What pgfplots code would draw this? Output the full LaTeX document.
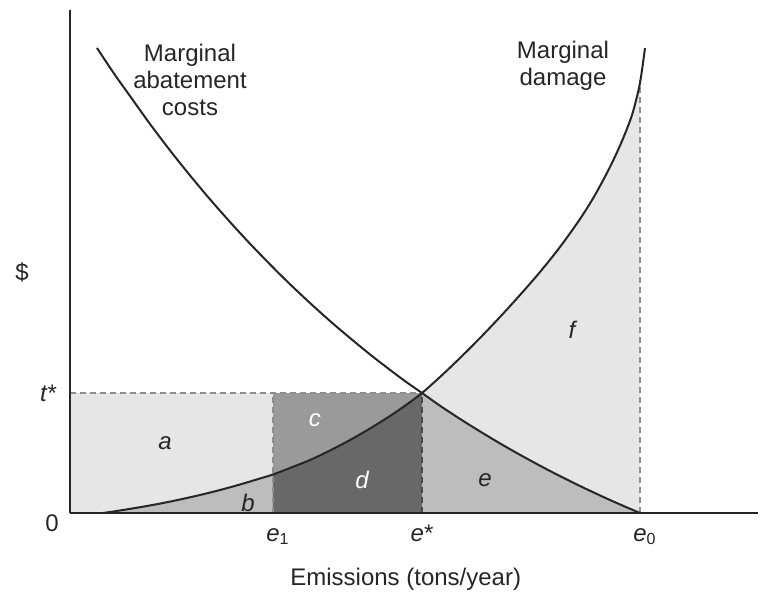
\documentclass[border=0pt]{standalone}
\usepackage{pgfplots}
\pgfplotsset{compat=1.18}
\usepackage{fontspec}
\setmainfont{Liberation Sans}
\definecolor{lightA}{HTML}{E6E6E6}
\definecolor{midB}{HTML}{BDBDBD}
\definecolor{midC}{HTML}{9A9A9A}
\definecolor{darkD}{HTML}{686868}
\definecolor{dashc}{HTML}{8E8E8E}
\definecolor{txt}{HTML}{262626}
\begin{document}
\begin{tikzpicture}
\begin{axis}[
  width=344pt, height=251.5pt, scale only axis,
  xmin=0, xmax=688, ymin=0, ymax=503,
  axis lines=left,
  axis line style={-, line width=1pt, color=txt},
  axis on top,
  clip=false,
  major tick length=0pt,
  xtick={203,352,570},
  xticklabels={\textit{e}\rlap{\textsubscript{1}}, \textit{e}*, \textit{e}\rlap{\textsubscript{0}}},
  xticklabel style={anchor=base, yshift=-14pt, text=txt, font=\fontsize{12}{14}\selectfont},
  ytick={120},
  yticklabels={\textit{t}*},
  yticklabel style={anchor=east, xshift=-3pt, text=txt, font=\fontsize{12}{14}\selectfont},
  xlabel={Emissions (tons/year)},
  xlabel style={at={(axis description cs:0.488,0)}, anchor=base, yshift=-36pt, text=txt, font=\fontsize{12}{14}\selectfont},
  ylabel={\$},
  ylabel style={at={(axis description cs:0,0.479)}, anchor=center, rotate=-90, xshift=-24pt, text=txt, font=\fontsize{12}{14}\selectfont},
]
% bounding box of the whole picture
\path (axis cs:-70,-80) rectangle (axis cs:691,513);

% regions a and c (rectangles up to t*)
\addplot[fill=lightA, draw=none] coordinates {(0,0) (0,120) (203,120) (203,0)} -- cycle;
\addplot[fill=midC, draw=none] coordinates {(203,0) (203,120) (352,120) (352,0)} -- cycle;
% region f (under MD between e* and e0)
\addplot[fill=lightA, draw=none, smooth] coordinates {(352,120) (370,136) (390,155) (410,175) (430,196) (450,218) (470,241) (490,266) (510,294) (525,318) (540,346) (552,372) (562,398) (569,425) (570,433)} \closedcycle;
% region b (under MD up to e1)
\addplot[fill=midB, draw=none, smooth] coordinates {(33,0) (50,2.5) (70,5.8) (90,9.4) (110,13.5) (130,18) (150,23) (170,28.5) (190,34.5) (203,38.5)} \closedcycle;
% region d (under MD between e1 and e*)
\addplot[fill=darkD, draw=none, smooth] coordinates {(203,38.5) (220,45) (240,53) (260,62.5) (280,73) (300,84.5) (320,97) (336,108) (352,120)} \closedcycle;
% region e (under MAC between e* and e0)
\addplot[fill=midB, draw=none, smooth] coordinates {(352,120) (370,107.3) (390,94.1) (410,81.6) (430,69.6) (450,58.2) (470,47.3) (490,36.9) (510,27) (525,19.9) (540,13) (555,6.4) (570,0)} \closedcycle;

% dashed guide lines
\addplot[dashc, line width=0.7pt, dash pattern=on 3pt off 2pt] coordinates {(0,120) (352,120)};
\addplot[dashc, line width=0.7pt, dash pattern=on 3pt off 2pt] coordinates {(203,0) (203,120)};
\addplot[darkD!70!black, line width=0.7pt, dash pattern=on 3pt off 2pt] coordinates {(352,0) (352,120)};
\addplot[dashc, line width=0.7pt, dash pattern=on 3pt off 2pt] coordinates {(570,0) (570,433)};

% Marginal damage
\addplot[txt, line width=1pt, smooth] coordinates {(33,0) (50,2.5) (70,5.8) (90,9.4) (110,13.5) (130,18) (150,23) (170,28.5) (190,34.5) (203,38.5) (220,45) (240,53) (260,62.5) (280,73) (300,84.5) (320,97) (336,108) (352,120) (370,136) (390,155) (410,175) (430,196) (450,218) (470,241) (490,266) (510,294) (525,318) (540,346) (552,372) (562,398) (569,425) (572,443) (575,465)};
% Marginal abatement costs
\addplot[txt, line width=1pt, smooth] coordinates {(27,465) (45,438) (60,417) (80,389) (100,362.6) (120,337.6) (140,313.7) (160,291) (180,269.3) (203,245.6) (220,228.8) (240,210) (260,192) (280,175) (300,158.6) (320,143.1) (336,131.2) (352,120) (370,107.3) (390,94.1) (410,81.6) (430,69.6) (450,58.2) (470,47.3) (490,36.9) (510,27) (525,19.9) (540,13) (555,6.4) (570,0)};

% curve labels
\node[align=center, text=txt, font=\fontsize{12}{13.5}\selectfont] at (axis cs:120,433) {Marginal\\abatement\\costs};
\node[align=center, text=txt, font=\fontsize{12}{13.5}\selectfont] at (axis cs:493,447) {Marginal\\damage};

% area letters
\node[text=txt, font=\fontsize{12}{14}\itshape] at (axis cs:95,70) {a};
\node[text=txt, font=\fontsize{12}{14}\itshape] at (axis cs:178,10) {b};
\node[text=white, font=\fontsize{12}{14}\itshape] at (axis cs:245,93) {c};
\node[text=white, font=\fontsize{12}{14}\itshape] at (axis cs:292,33) {d};
\node[text=txt, font=\fontsize{12}{14}\itshape] at (axis cs:415,33) {e};
\node[text=txt, font=\fontsize{12}{14}\itshape] at (axis cs:502,183) {f};

% origin label
\node[text=txt, font=\fontsize{12}{14}\selectfont] at (axis cs:-18,-10) {0};
\end{axis}
\end{tikzpicture}
\end{document}
